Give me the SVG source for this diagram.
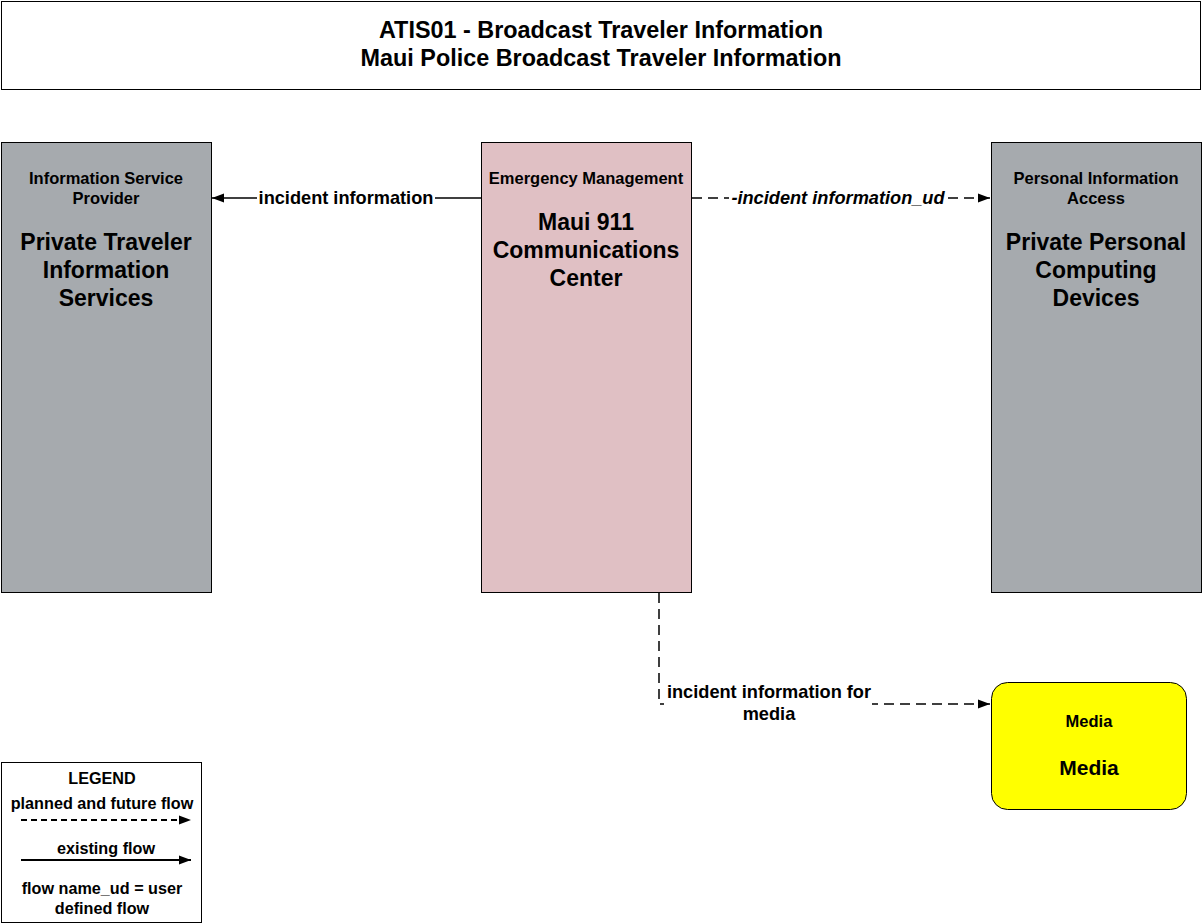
<svg xmlns="http://www.w3.org/2000/svg" width="1202" height="924" viewBox="0 0 1202 924">
<style>
text{font-family:"Liberation Sans",Arial,sans-serif;font-weight:bold;fill:#000;text-anchor:middle}
.t{font-size:23.4px}
.h{font-size:16.5px}
.n{font-size:23px}
.f{font-size:18.2px}
.l{font-size:16.2px}
.box{stroke:#000;stroke-width:1}
.line{stroke:#000;stroke-width:1.5;fill:none}
.dash{stroke-dasharray:10,6}
</style>
<defs>
<marker id="arr" viewBox="0 0 12 10" refX="12" refY="5" markerWidth="12" markerHeight="10" markerUnits="userSpaceOnUse" orient="auto">
<path d="M0,0.5 L12,5 L0,9.5 z" fill="#000"/>
</marker>
</defs>
<rect x="0" y="0" width="1202" height="924" fill="#fff"/>
<g id="title">
<rect class="box" x="1.5" y="1.5" width="1199" height="88" fill="#fff"/>
<text class="t" x="601" y="38">ATIS01 - Broadcast Traveler Information</text>
<text class="t" x="601" y="66">Maui Police Broadcast Traveler Information</text>
</g>
<g id="connectors">
<line class="line" x1="481" y1="198" x2="212" y2="198" marker-end="url(#arr)"/>
<rect x="257" y="187" width="178" height="22" fill="#fff"/>
<text class="f" x="346" y="204">incident information</text>
<line class="line dash" x1="692" y1="198" x2="990" y2="198" marker-end="url(#arr)"/>
<rect x="729" y="187" width="219" height="22" fill="#fff"/>
<text class="f" x="838" y="204" font-style="italic">-incident information_ud</text>
<path class="line dash" d="M659,593 L659,704 L990,704" marker-end="url(#arr)"/>
<rect x="664" y="681" width="208" height="42" fill="#fff"/>
<text class="f" x="769" y="698">incident information for</text>
<text class="f" x="769" y="720">media</text>
</g>
<g id="isp">
<rect class="box" x="1.5" y="142.5" width="210" height="450" fill="#A6AAAE"/>
<text class="h" x="106" y="184">Information Service</text>
<text class="h" x="106" y="204">Provider</text>
<text class="n" x="106" y="250">Private Traveler</text>
<text class="n" x="106" y="278">Information</text>
<text class="n" x="106" y="306">Services</text>
</g>
<g id="em">
<rect class="box" x="481.5" y="142.5" width="210" height="450" fill="#E0C0C4"/>
<text class="h" x="586" y="184">Emergency Management</text>
<text class="n" x="586" y="230">Maui 911</text>
<text class="n" x="586" y="258">Communications</text>
<text class="n" x="586" y="286">Center</text>
</g>
<g id="pia">
<rect class="box" x="991.5" y="142.5" width="210" height="450" fill="#A6AAAE"/>
<text class="h" x="1096" y="184">Personal Information</text>
<text class="h" x="1096" y="204">Access</text>
<text class="n" x="1096" y="250">Private Personal</text>
<text class="n" x="1096" y="278">Computing</text>
<text class="n" x="1096" y="306">Devices</text>
</g>
<g id="media">
<rect class="box" x="991.5" y="682.5" width="195" height="127" rx="16" ry="16" fill="#FFFF00"/>
<text class="h" x="1089" y="727">Media</text>
<text class="n" x="1089" y="775" style="font-size:21px">Media</text>
</g>
<g id="legend">
<rect class="box" x="1.5" y="762.5" width="200" height="160" fill="#fff"/>
<text class="l" x="102" y="784">LEGEND</text>
<text class="l" x="102" y="809">planned and future flow</text>
<line x1="21" y1="820" x2="191" y2="820" stroke="#000" stroke-width="2" stroke-dasharray="6,4" marker-end="url(#arr)"/>
<text class="l" x="106" y="854">existing flow</text>
<line x1="21" y1="860" x2="191" y2="860" stroke="#000" stroke-width="2" marker-end="url(#arr)"/>
<text class="l" x="102" y="894">flow name_ud = user</text>
<text class="l" x="102" y="914">defined flow</text>
</g>
</svg>
